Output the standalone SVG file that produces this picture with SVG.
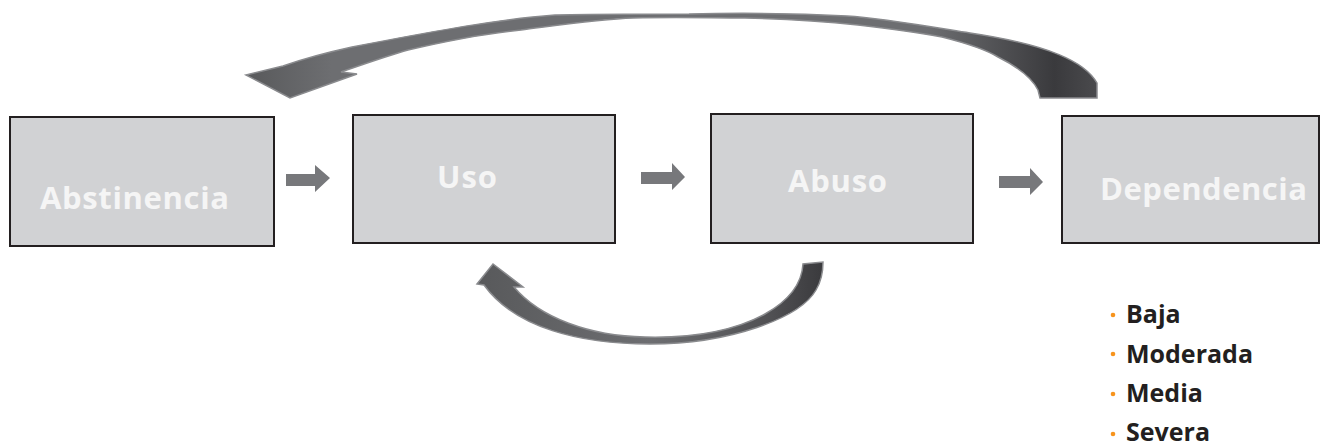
<svg xmlns="http://www.w3.org/2000/svg" width="1329" height="448" viewBox="0 0 1329 448">
<style>
.box{fill:#d1d2d4;stroke:#231f20;stroke-width:2}
.lbl{font-family:"Open Sans","Liberation Sans",sans-serif;font-weight:bold;font-size:31px;fill:#f5f5f5}
.step{fill:#77787b}
.arc{stroke:#8a8b8e;stroke-width:1.5}
.item{font-family:"Open Sans","Liberation Sans",sans-serif;font-weight:bold;font-size:25px;fill:#231f20}
.dot{fill:#f7941d}
</style>
<defs>
<linearGradient id="gTop" x1="0" y1="0" x2="1" y2="0">
<stop offset="0" stop-color="#58595b"/>
<stop offset="0.1" stop-color="#6d6e71"/>
<stop offset="0.8" stop-color="#6d6e71"/>
<stop offset="0.95" stop-color="#3a3a3d"/>
<stop offset="1" stop-color="#4a4a4d"/>
</linearGradient>
<linearGradient id="gBot" x1="0" y1="0" x2="1" y2="0">
<stop offset="0" stop-color="#58595b"/>
<stop offset="0.5" stop-color="#6d6e71"/>
<stop offset="0.85" stop-color="#505053"/>
<stop offset="1" stop-color="#3a3a3d"/>
</linearGradient>
</defs>
<g id="connectors">
<path class="arc" fill="url(#gTop)" d="M1097,98 L1097,83 C1085,62 1050,45 970,33 C920,25 880,18 847,16 C790,13 730,13 689,14 C640,14 590,14 555,15 C500,19 440,30 352,47 C320,54 300,60 283,66 L246,75 L290,98 L357,74 L341,72 C370,62 390,55 408,50 C450,40 490,33 521,30 C560,25 600,19 633,18 C680,17 710,18 745,18 C790,19 830,22 858,25 C900,30 920,33 942,37 C970,44 990,52 998,57 C1020,68 1032,78 1038,90 L1040,98 Z"/>
<path class="arc" fill="url(#gBot)" d="M484,285 C515,328 580,344 650,344 C730,344 800,318 816,290 C822,280 823,270 823,262 L803,264 C802,282 790,300 765,314 C730,333 685,338 645,337 C590,336 540,318 514,287 L523,287 L493,264 L477,284 Z"/>
<polygon class="step" points="286,174 315,174 315,165 330,178 315,192 315,186 286,186"/>
<polygon class="step" points="641,172 672,172 672,163 685,177 672,190 672,184 641,184"/>
<polygon class="step" points="999,176 1030,176 1030,168 1043,182 1030,195 1030,188 999,188"/>
</g>
<g id="abstinencia">
<rect class="box" x="10" y="117" width="264" height="129"/>
<text class="lbl" x="40" y="209" textLength="189" lengthAdjust="spacing">Abstinencia</text>
</g>
<g id="uso">
<rect class="box" x="353" y="115" width="262" height="128"/>
<text class="lbl" x="437" y="188" textLength="60" lengthAdjust="spacing">Uso</text>
</g>
<g id="abuso">
<rect class="box" x="711" y="114" width="262" height="129"/>
<text class="lbl" x="788" y="192" textLength="99" lengthAdjust="spacing">Abuso</text>
</g>
<g id="dependencia">
<rect class="box" x="1062" y="116" width="257" height="127"/>
<text class="lbl" x="1100" y="200" textLength="207" lengthAdjust="spacing">Dependencia</text>
</g>
<g id="niveles">
<circle class="dot" cx="1113" cy="315" r="2.3"/>
<text class="item" x="1126" y="323">Baja</text>
<circle class="dot" cx="1113" cy="354" r="2.3"/>
<text class="item" x="1126" y="363">Moderada</text>
<circle class="dot" cx="1113" cy="394" r="2.3"/>
<text class="item" x="1126" y="402">Media</text>
<circle class="dot" cx="1113" cy="434" r="2.3"/>
<text class="item" x="1126" y="441">Severa</text>
</g>
</svg>
